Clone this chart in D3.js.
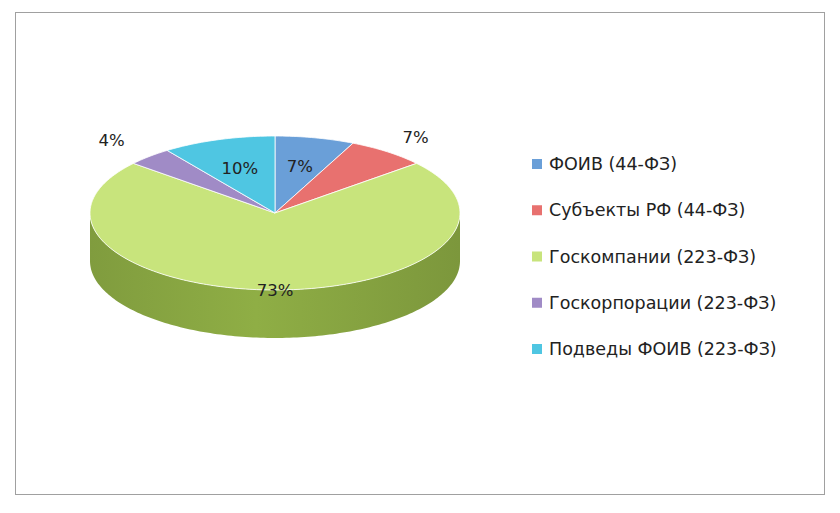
<!DOCTYPE html>
<html><head><meta charset="utf-8">
<script src="https://cdn.jsdelivr.net/npm/d3@7"></script>
<style>body{margin:0;background:#fff}</style></head>
<body><svg id="c" width="840" height="513"></svg>
<script>
const categories = ["ФОИВ (44-ФЗ)","Субъекты РФ (44-ФЗ)","Госкомпании (223-ФЗ)","Госкорпорации (223-ФЗ)","Подведы ФОИВ (223-ФЗ)"];
const values = [7,7,73,4,10];
const labels = ["7%","7%","73%","4%","10%"];
const topColors = ["#6a9fd8","#e8716f","#c8e47c","#a08bc6","#4fc6e2"];
const sideColors = ["#4a7cb0","#b54a48","#8fae45","#77629c","#2f9bb6"];
const labelR = [0.62,1.25,1.0,1.3,0.62];

const svg = d3.select("#c");
svg.append("rect").attr("x",15.5).attr("y",12.5).attr("width",809).attr("height",482)
  .attr("fill","#fff").attr("stroke","#a0a0a0");
const cx=275, cy=213, rx=185, ry=77, depth=48;
const pie = d3.pie().sort(null).value(d=>d)(values);
const pt=(a,dy=0)=>[cx+rx*Math.sin(a), cy-ry*Math.cos(a)+dy];
const line=d3.line();
function arcPts(a0,a1,dy){const n=Math.max(2,Math.ceil((a1-a0)/0.02));return d3.range(n+1).map(i=>pt(a0+(a1-a0)*i/n,dy));}
const g=svg.append("g");
pie.forEach((p,i)=>{
  const a0=Math.max(p.startAngle,Math.PI/2), a1=Math.min(p.endAngle,3*Math.PI/2);
  if(a1<=a0) return;
  const top=arcPts(a0,a1,0), bot=arcPts(a0,a1,depth).reverse();
  const grad=svg.append("defs").append("linearGradient").attr("id","sg"+i).attr("x1",0).attr("x2",1);
  grad.append("stop").attr("offset",0).attr("stop-color",d3.color(sideColors[i]).darker(0.3));
  grad.append("stop").attr("offset",0.45).attr("stop-color",sideColors[i]);
  grad.append("stop").attr("offset",1).attr("stop-color",d3.color(sideColors[i]).darker(0.4));
  g.append("path").attr("d",line(top.concat(bot))+"Z").attr("fill","url(#sg"+i+")");
});
pie.forEach((p,i)=>{
  const pts=[[cx,cy]].concat(arcPts(p.startAngle,p.endAngle,0));
  g.append("path").attr("d",line(pts)+"Z").attr("fill",topColors[i]).attr("stroke","#fff").attr("stroke-width",0.8);
});
pie.forEach((p,i)=>{
  const a=(p.startAngle+p.endAngle)/2, r=labelR[i];
  g.append("text").attr("x",cx+rx*r*Math.sin(a)).attr("y",cy-ry*r*Math.cos(a)+6)
   .attr("text-anchor","middle").attr("font-family","DejaVu Sans, sans-serif").attr("font-size",16.5).attr("fill","#222").text(labels[i]);
});
const ly=d3.scalePoint().domain(categories).range([164,349]);
const lg=svg.append("g");
categories.forEach((c,i)=>{
  lg.append("rect").attr("x",532).attr("y",ly(c)-5).attr("width",10).attr("height",10).attr("fill",topColors[i]);
  lg.append("text").attr("x",549).attr("y",ly(c)+6).attr("font-family","DejaVu Sans, sans-serif").attr("font-size",17.5).attr("fill","#222").text(c);
});
</script></body></html>
